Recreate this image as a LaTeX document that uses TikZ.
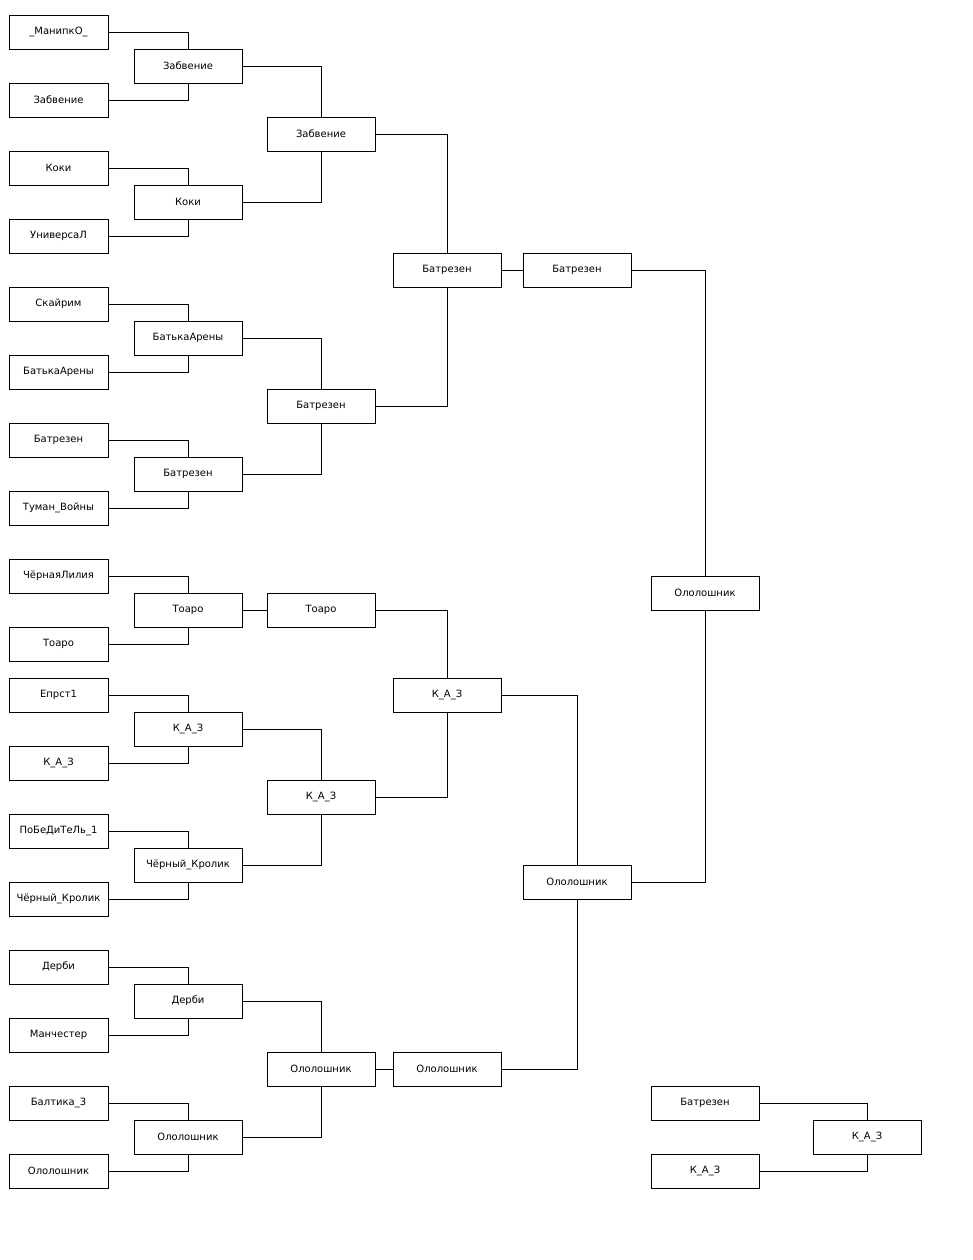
\documentclass[tikz,border=0pt]{standalone}
\usepackage{fontspec}
\setmainfont{DejaVu Sans}
\usepackage{tikz}
\usepackage{xcolor}

\begin{document}
\begin{tikzpicture}[x=0.75pt, y=-0.75pt, line width=0.75pt,
    every node/.style={font=\fontsize{7.5}{9}\selectfont},
    team/.style={draw, minimum width=74.25pt, minimum height=25.5pt, inner sep=0pt},
    winner/.style={team, minimum width=81pt}]
  \useasboundingbox (0,0) rectangle (972,1260);
  % Первый круг
  \node[team] (r1n1)  at (58.5,32)   {\_МанипкО\_};
  \node[team] (r1n2)  at (58.5,100)  {Забвение};
  \node[team] (r1n3)  at (58.5,168)  {Коки};
  \node[team] (r1n4)  at (58.5,236)  {УниверсаЛ};
  \node[team] (r1n5)  at (58.5,304)  {Скайрим};
  \node[team] (r1n6)  at (58.5,372)  {БатькаАрены};
  \node[team] (r1n7)  at (58.5,440)  {Батрезен};
  \node[team] (r1n8)  at (58.5,508)  {Туман\_Войны};
  \node[team] (r1n9)  at (58.5,576)  {ЧёрнаяЛилия};
  \node[team] (r1n10) at (58.5,644)  {Тоаро};
  \node[team] (r1n11) at (58.5,695)  {Епрст1};
  \node[team] (r1n12) at (58.5,763)  {К\_А\_З};
  \node[team] (r1n13) at (58.5,831)  {ПоБеДиТеЛь\_1};
  \node[team] (r1n14) at (58.5,899)  {Чёрный\_Кролик};
  \node[team] (r1n15) at (58.5,967)  {Дерби};
  \node[team] (r1n16) at (58.5,1035) {Манчестер};
  \node[team] (r1n17) at (58.5,1103) {Балтика\_3};
  \node[team] (r1n18) at (58.5,1171) {Ололошник};
  % Второй круг
  \node[winner] (r2n1) at (188,66)   {Забвение};
  \node[winner] (r2n2) at (188,202)  {Коки};
  \node[winner] (r2n3) at (188,338)  {БатькаАрены};
  \node[winner] (r2n4) at (188,474)  {Батрезен};
  \node[winner] (r2n5) at (188,610)  {Тоаро};
  \node[winner] (r2n6) at (188,729)  {К\_А\_З};
  \node[winner] (r2n7) at (188,865)  {Чёрный\_Кролик};
  \node[winner] (r2n8) at (188,1001) {Дерби};
  \node[winner] (r2n9) at (188,1137) {Ололошник};
  % Третий круг
  \node[winner] (r3n1) at (321,134)  {Забвение};
  \node[winner] (r3n2) at (321,406)  {Батрезен};
  \node[winner] (r3n3) at (321,610)  {Тоаро};
  \node[winner] (r3n4) at (321,797)  {К\_А\_З};
  \node[winner] (r3n5) at (321,1069) {Ололошник};
  % Четвёртый круг
  \node[winner] (r4n1) at (447,270)  {Батрезен};
  \node[winner] (r4n2) at (447,695)  {К\_А\_З};
  \node[winner] (r4n3) at (447,1069) {Ололошник};
  % Полуфинал
  \node[winner] (r5n1) at (577,270)  {Батрезен};
  \node[winner] (r5n2) at (577,882)  {Ололошник};
  % Финал
  \node[winner] (r6n1) at (705,593)  {Ололошник};
  % Матч за третье место
  \node[winner] (thn1) at (705,1103) {Батрезен};
  \node[winner] (thn2) at (705,1171) {К\_А\_З};
  \node[winner] (thn3) at (867,1137) {К\_А\_З};
  % Линии первого круга
  \draw (r1n1.east)  -| (r2n1.north);
  \draw (r1n2.east)  -| (r2n1.south);
  \draw (r1n3.east)  -| (r2n2.north);
  \draw (r1n4.east)  -| (r2n2.south);
  \draw (r1n5.east)  -| (r2n3.north);
  \draw (r1n6.east)  -| (r2n3.south);
  \draw (r1n7.east)  -| (r2n4.north);
  \draw (r1n8.east)  -| (r2n4.south);
  \draw (r1n9.east)  -| (r2n5.north);
  \draw (r1n10.east) -| (r2n5.south);
  \draw (r1n11.east) -| (r2n6.north);
  \draw (r1n12.east) -| (r2n6.south);
  \draw (r1n13.east) -| (r2n7.north);
  \draw (r1n14.east) -| (r2n7.south);
  \draw (r1n15.east) -| (r2n8.north);
  \draw (r1n16.east) -| (r2n8.south);
  \draw (r1n17.east) -| (r2n9.north);
  \draw (r1n18.east) -| (r2n9.south);
  % Линии второго круга
  \draw (r2n1.east) -| (r3n1.north);
  \draw (r2n2.east) -| (r3n1.south);
  \draw (r2n3.east) -| (r3n2.north);
  \draw (r2n4.east) -| (r3n2.south);
  \draw (r2n5.east) -- (r3n3.west);
  \draw (r2n6.east) -| (r3n4.north);
  \draw (r2n7.east) -| (r3n4.south);
  \draw (r2n8.east) -| (r3n5.north);
  \draw (r2n9.east) -| (r3n5.south);
  % Линии третьего круга
  \draw (r3n1.east) -| (r4n1.north);
  \draw (r3n2.east) -| (r4n1.south);
  \draw (r3n3.east) -| (r4n2.north);
  \draw (r3n4.east) -| (r4n2.south);
  \draw (r3n5.east) -- (r4n3.west);
  % Полуфиналы и финал
  \draw (r4n1.east) -- (r5n1.west);
  \draw (r4n2.east) -| (r5n2.north);
  \draw (r4n3.east) -| (r5n2.south);
  \draw (r5n1.east) -| (r6n1.north);
  \draw (r5n2.east) -| (r6n1.south);
  % Третье место
  \draw (thn1.east) -| (thn3.north);
  \draw (thn2.east) -| (thn3.south);
\end{tikzpicture}
\end{document}
